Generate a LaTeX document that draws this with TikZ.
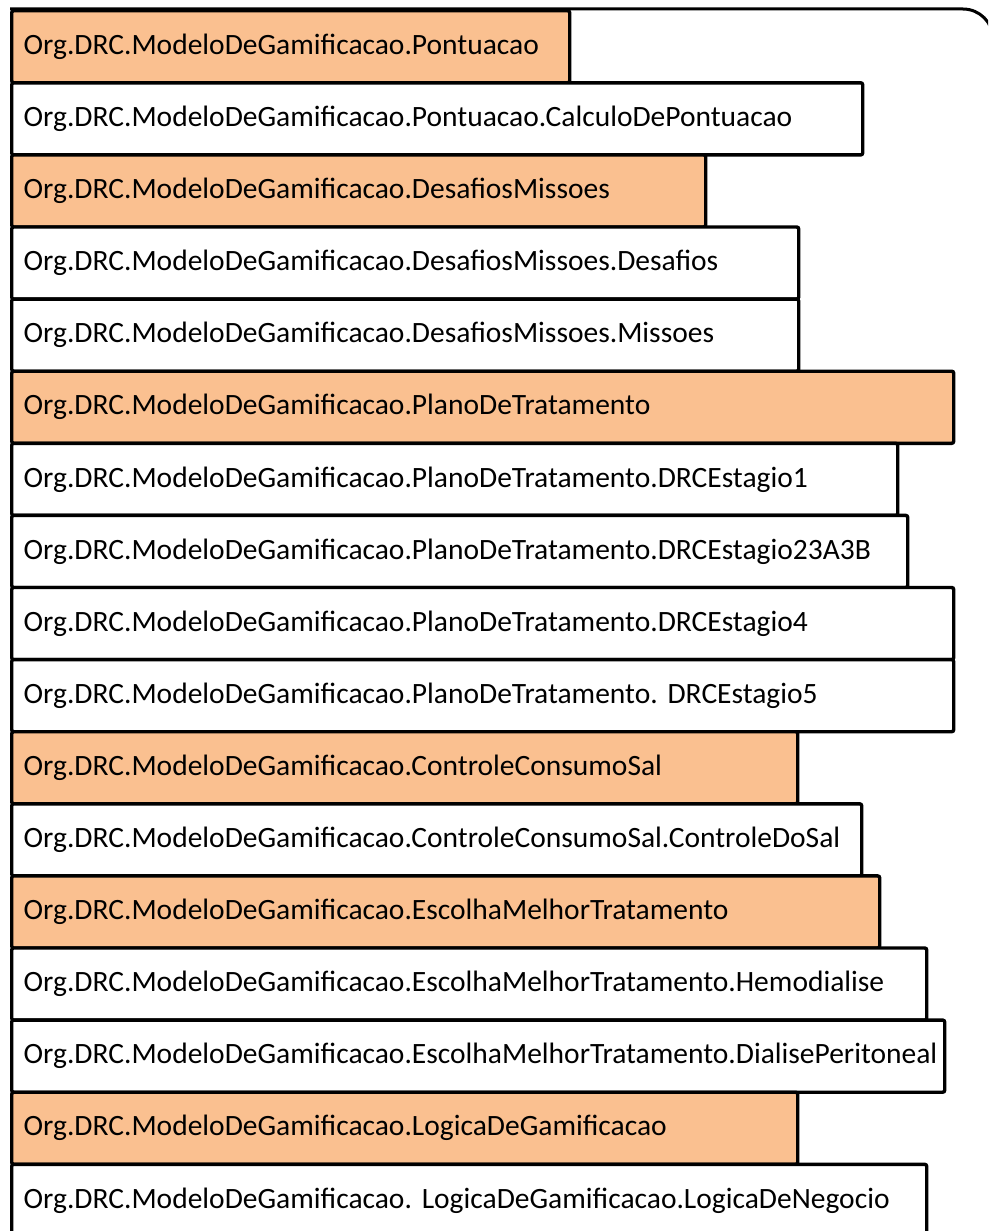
\documentclass[tikz,border=0pt]{standalone}
\usepackage{fontspec}
\setmainfont{Carlito}
\usetikzlibrary{positioning}
\definecolor{pkgorange}{HTML}{FAC090}

\tikzset{
  box/.style={draw=black, line width=3.4pt, rounded corners=2pt, anchor=north west,
    minimum height=72.1pt, inner xsep=12pt, inner ysep=0pt, align=left,
    font=\fontsize{29.5}{34}\selectfont\frenchspacing},
  pkgbox/.style={box, fill=pkgorange, text width=#1},
  clsbox/.style={box, fill=white, text width=#1}
}

\begin{document}
\begin{tikzpicture}[x=1pt,y=1pt]
\useasboundingbox (0,0) rectangle (988,-1231);
\clip (0,0) rectangle (988,-1231);
% outer frame
\draw[line width=3pt, rounded corners=30pt] (10,-9) -- (993,-9) -- (993,-1300);
% rows
\node[pkgbox=534pt] (pontuacao) at (10,-9) {Org.DRC.ModeloDeGamificacao.Pontuacao};
\node[clsbox=827pt] (calculo) at (10,-81.1) {Org.DRC.ModeloDeGamificacao.Pontuacao.CalculoDePontuacao};
\node[pkgbox=670pt] (desafiosmissoes) at (10,-153.2) {Org.DRC.ModeloDeGamificacao.DesafiosMissoes};
\node[clsbox=763pt] (desafios) at (10,-225.3) {Org.DRC.ModeloDeGamificacao.DesafiosMissoes.Desafios};
\node[clsbox=763pt] (missoes) at (10,-297.4) {Org.DRC.ModeloDeGamificacao.DesafiosMissoes.Missoes};
\node[pkgbox=918pt] (plano) at (10,-369.5) {Org.DRC.ModeloDeGamificacao.PlanoDeTratamento};
\node[clsbox=862pt] (estagio1) at (10,-441.6) {Org.DRC.ModeloDeGamificacao.PlanoDeTratamento.DRCEstagio1};
\node[clsbox=872pt] (estagio23) at (10,-513.7) {Org.DRC.ModeloDeGamificacao.PlanoDeTratamento.DRCEstagio23A3B};
\node[clsbox=918pt] (estagio4) at (10,-585.8) {Org.DRC.ModeloDeGamificacao.PlanoDeTratamento.DRCEstagio4};
\node[clsbox=918pt] (estagio5) at (10,-657.9) {Org.DRC.ModeloDeGamificacao.PlanoDeTratamento. DRCEstagio5};
\node[pkgbox=762pt] (consumosal) at (10,-730.0) {Org.DRC.ModeloDeGamificacao.ControleConsumoSal};
\node[clsbox=826pt] (controlesal) at (10,-802.1) {Org.DRC.ModeloDeGamificacao.ControleConsumoSal.ControleDoSal};
\node[pkgbox=844pt] (escolha) at (10,-874.2) {Org.DRC.ModeloDeGamificacao.EscolhaMelhorTratamento};
\node[clsbox=891pt] (hemodialise) at (10,-946.3) {Org.DRC.ModeloDeGamificacao.EscolhaMelhorTratamento.Hemodialise};
\node[clsbox=909pt] (peritoneal) at (10,-1018.4) {Org.DRC.ModeloDeGamificacao.EscolhaMelhorTratamento.DialisePeritoneal};
\node[pkgbox=762pt] (logica) at (10,-1090.5) {Org.DRC.ModeloDeGamificacao.LogicaDeGamificacao};
\node[clsbox=891pt] (negocio) at (10,-1162.6) {Org.DRC.ModeloDeGamificacao. LogicaDeGamificacao.LogicaDeNegocio};
\end{tikzpicture}
\end{document}
